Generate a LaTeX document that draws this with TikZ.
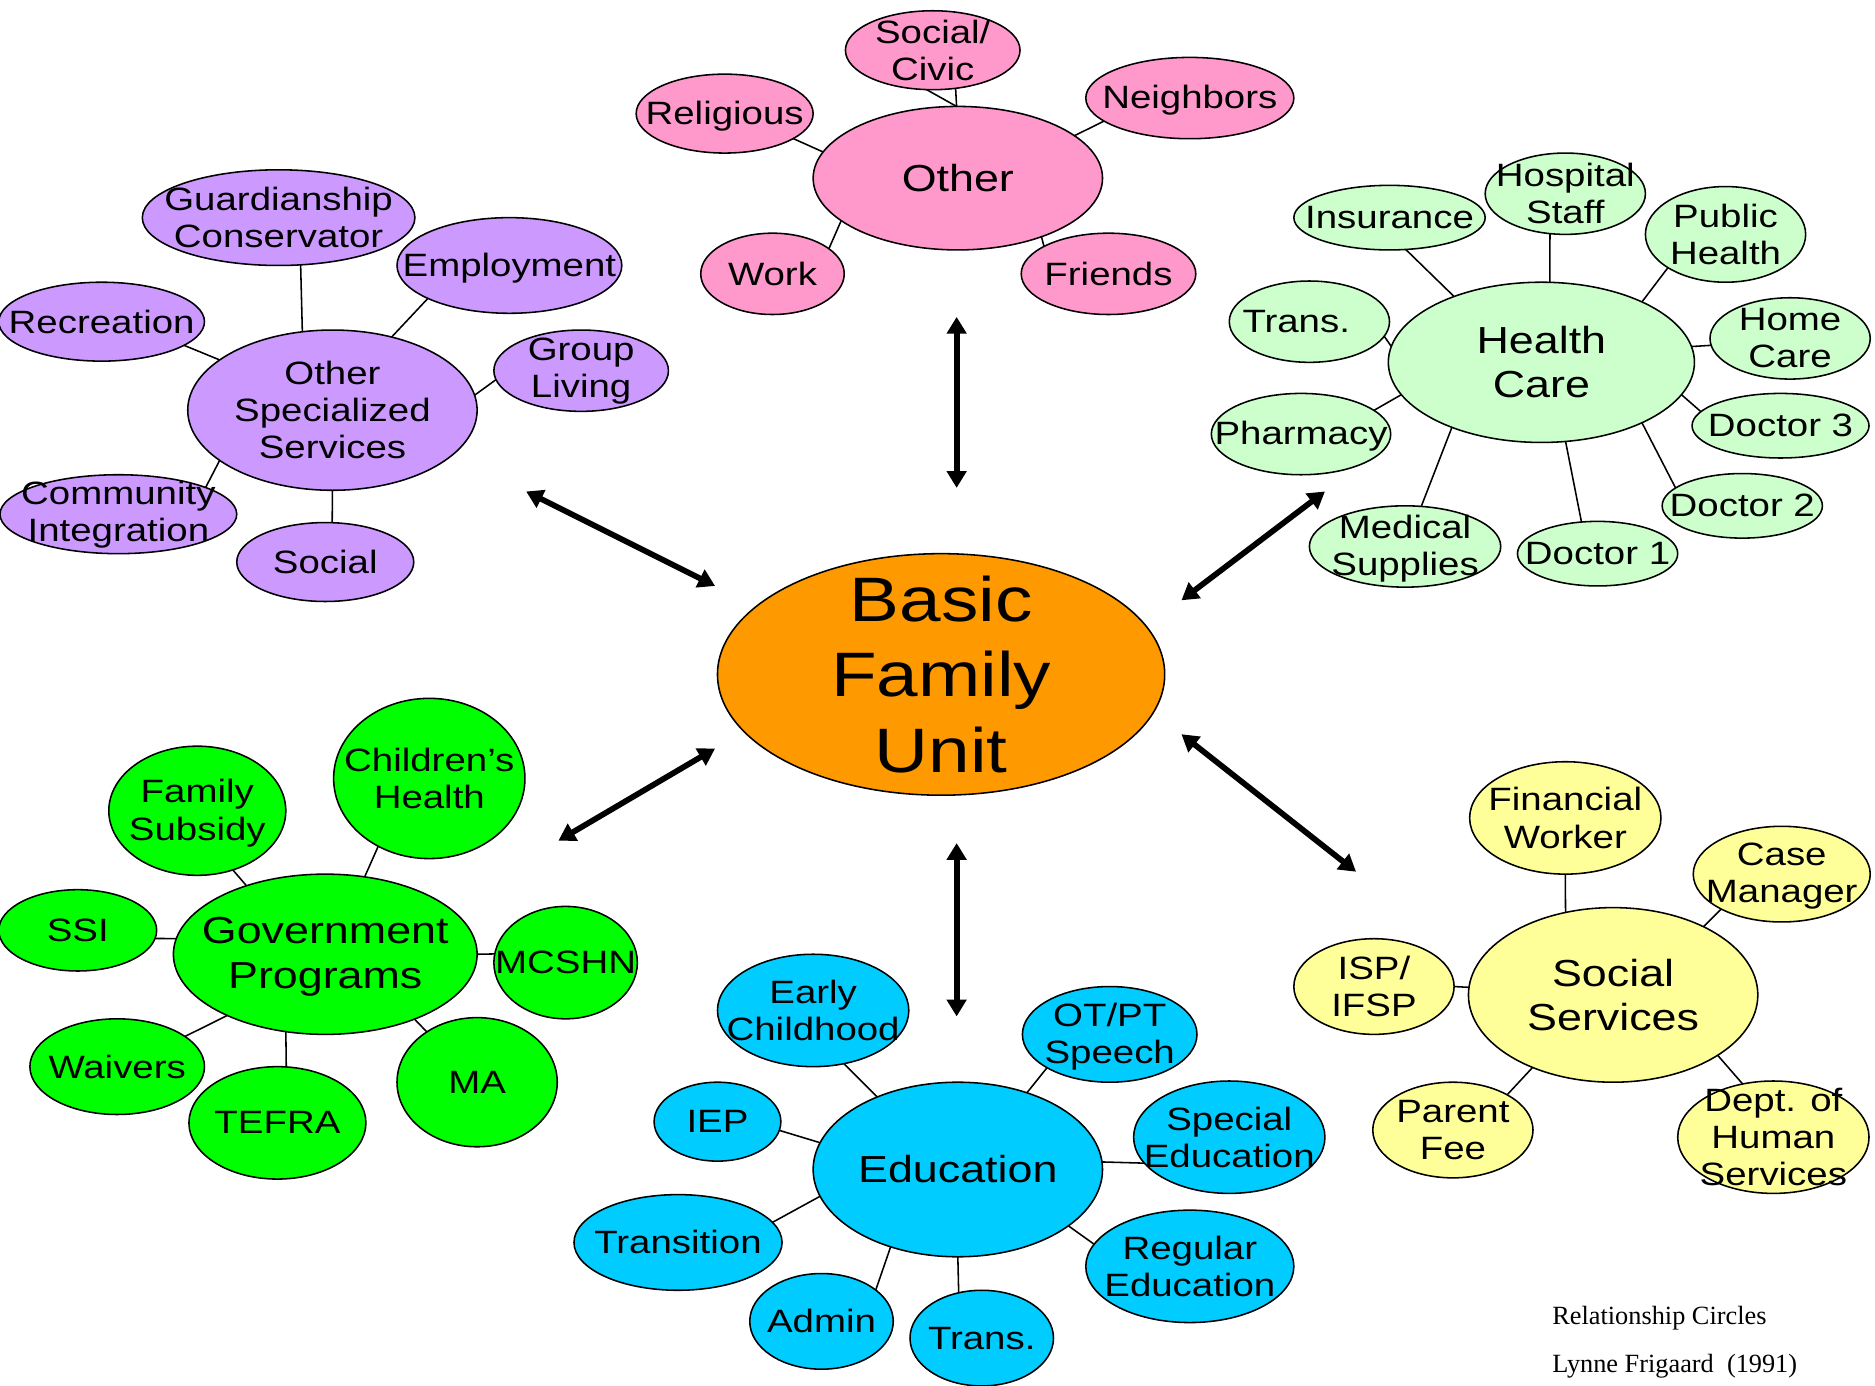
\documentclass[tikz,border=0pt]{standalone}
\usepackage{fontspec}
\setmainfont{Liberation Sans}[FakeStretch=1.19]
\newfontfamily\credfont{Liberation Serif}
\usetikzlibrary{shapes.geometric,arrows.meta}
\definecolor{cpink}{HTML}{FF99CC}
\definecolor{cpurple}{HTML}{CC99FF}
\definecolor{clgreen}{HTML}{CCFFCC}
\definecolor{cgreen}{HTML}{00FF00}
\definecolor{ccyan}{HTML}{00CCFF}
\definecolor{cyellow}{HTML}{FFFF99}
\definecolor{corange}{HTML}{FF9900}
\tikzset{
  bub/.style={ellipse, draw=black, line width=1.3pt, inner sep=0pt, outer sep=0pt},
  lbl/.style={align=center, inner sep=0pt, text=black},
  ts/.style={font=\fontsize{27}{31}\selectfont},
  tm/.style={font=\fontsize{31.5}{37}\selectfont},
  tb/.style={font=\fontsize{52.5}{63}\selectfont},
  link/.style={line width=1.3pt, draw=black},
  dbl/.style={line width=4.8pt, draw=black, {Triangle[length=14pt,width=16pt]}-{Triangle[length=14pt,width=16pt]}},
  credit/.style={font=\credfont\fontsize{22}{26}\selectfont, inner sep=0pt, anchor=base west}
}
\newcommand\bb[8]{%
  \node[bub,fill=#2,minimum width={2*#5},minimum height={2*#6}] (#1) at (#3,#4) {};
  \node[lbl,#7] (#1-t) at (#1.center) {#8};}
\begin{document}
\begin{tikzpicture}[x=1pt,y=-1pt]
\fill[white] (0,0) rectangle (1568,1159);
\useasboundingbox (0,0) rectangle (1568,1159);

% central
\bb{bfu}{corange}{787}{564}{187}{101}{tb}{Basic\\Family\\Unit}

% Other (pink)
\bb{other}{cpink}{801}{149}{121}{60}{tm}{Other}
\bb{scivic}{cpink}{780}{42}{73}{33}{ts}{Social/\\Civic}
\bb{relig}{cpink}{606}{95}{74}{33}{ts,yshift=-2pt}{Religious}
\bb{neigh}{cpink}{995}{82}{87}{34}{ts,yshift=-2pt}{Neighbors}
\bb{work}{cpink}{646}{229}{60}{34}{ts}{Work}
\bb{friends}{cpink}{927}{229}{73}{34}{ts}{Friends}

% Other Specialized Services (purple)
\bb{oss}{cpurple}{278}{343}{121}{67}{ts}{Other\\Specialized\\Services}
\bb{guard}{cpurple}{233}{182}{114}{40}{ts}{Guardianship\\Conservator}
\bb{employ}{cpurple}{426}{222}{94}{40}{ts,yshift=-2pt}{Employment}
\bb{recre}{cpurple}{85}{269}{86}{33}{ts}{Recreation}
\bb{group}{cpurple}{486}{310}{73}{34}{ts}{Group\\Living}
\bb{commun}{cpurple}{99}{430}{99}{33}{ts}{Community\\Integration}
\bb{social}{cpurple}{272}{470}{74}{33}{ts}{Social}

% Health Care (light green)
\bb{hc}{clgreen}{1289}{303}{128}{67}{tm}{Health\\Care}
\bb{insur}{clgreen}{1162}{182}{80}{27}{ts}{Insurance}
\bb{hosp}{clgreen}{1309}{162}{67}{34}{ts}{Hospital\\Staff}
\bb{pubh}{clgreen}{1443}{196}{67}{40}{ts}{Public\\Health}
\bb{htrans}{clgreen}{1095}{269}{67}{34}{ts,xshift=-11pt}{Trans.}
\bb{home}{clgreen}{1497}{283}{67}{34}{ts}{Home\\Care}
\bb{pharm}{clgreen}{1088}{363}{75}{34}{ts,yshift=-2pt}{Pharmacy}
\bb{doc3}{clgreen}{1489}{356}{74}{27}{ts}{Doctor 3}
\bb{medsup}{clgreen}{1175}{457}{80}{34}{ts,yshift=-2pt}{Medical\\Supplies}
\bb{doc1}{clgreen}{1336}{463}{67}{27}{ts}{Doctor 1}
\bb{doc2}{clgreen}{1457}{423}{67}{27}{ts}{Doctor 2}

% Government Programs (green)
\bb{gov}{cgreen}{272}{798}{127}{67}{tm,yshift=-2pt}{Government\\Programs}
\bb{famsub}{cgreen}{165}{678}{74}{54}{ts,yshift=-2pt}{Family\\Subsidy}
\bb{child}{cgreen}{359}{651}{80}{67}{ts}{Children's\\Health}
\bb{ssi}{cgreen}{65}{778}{66}{34}{ts}{SSI}
\bb{mcshn}{cgreen}{473}{805}{60}{47}{ts}{MCSHN}
\bb{waiv}{cgreen}{98}{892}{73}{40}{ts}{Waivers}
\bb{tefra}{cgreen}{232}{939}{74}{47}{ts}{TEFRA}
\bb{ma}{cgreen}{399}{905}{67}{54}{ts}{MA}

% Education (cyan)
\bb{edu}{ccyan}{801}{978}{121}{73}{tm}{Education}
\bb{early}{ccyan}{680}{845}{80}{47}{ts}{Early\\Childhood}
\bb{otpt}{ccyan}{928}{865}{73}{40}{ts,yshift=-2pt}{OT/PT\\Speech}
\bb{iep}{ccyan}{600}{938}{53}{33}{ts}{IEP}
\bb{special}{ccyan}{1028}{951}{80}{47}{ts}{Special\\Education}
\bb{transit}{ccyan}{567}{1039}{87}{40}{ts}{Transition}
\bb{regular}{ccyan}{995}{1059}{87}{47}{ts}{Regular\\Education}
\bb{admin}{ccyan}{687}{1105}{60}{40}{ts}{Admin}
\bb{etrans}{ccyan}{821}{1119}{60}{40}{ts}{Trans.}

% Social Services (yellow)
\bb{ss}{cyellow}{1349}{832}{121}{73}{tm}{Social\\Services}
\bb{fin}{cyellow}{1309}{684}{80}{47}{ts}{Financial\\Worker}
\bb{case}{cyellow}{1490}{731}{74}{40}{ts,yshift=-2pt}{Case\\Manager}
\bb{isp}{cyellow}{1149}{825}{67}{40}{ts}{ISP/\\IFSP}
\bb{parent}{cyellow}{1215}{945}{67}{40}{ts}{Parent\\Fee}
\bb{dept}{cyellow}{1483}{951}{80}{47}{ts}{Dept. of\\Human\\Services}

% connectors: Other
\draw[link] (relig.-20) -- (other.169);
\draw[link] (scivic.-59) -- (other.91);
\draw[link] (scivic.-99) -- (other.91);
\draw[link] (neigh.-165) -- (other.20);
\draw[link] (other.-160) -- (work.24);
\draw[link] (other.-35) -- (friends.157);
% connectors: OSS
\draw[link] (guard.-65) -- (oss.111);
\draw[link] (employ.-158) -- (oss.51);
\draw[link] (recre.-16) -- (oss.156);
\draw[link] (group.-174) -- (oss.6);
\draw[link] (oss.-156) -- (commun.17);
\draw[link] (oss.-90) -- (social.80);
% connectors: Health Care
\draw[link] (insur.-63) -- (hc.143);
\draw[link] (hosp.-111) -- (hc.84);
\draw[link] (pubh.-150) -- (hc.31);
\draw[link] (htrans.-11) -- (hc.174);
\draw[link] (hc.6) -- (home.-175);
\draw[link] (pharm.18) -- (hc.-167);
\draw[link] (hc.-13) -- (doc3.170);
\draw[link] (medsup.68) -- (hc.-144);
\draw[link] (hc.-73) -- (doc1.117);
\draw[link] (hc.-31) -- (doc2.165);
% connectors: Government
\draw[link] (famsub.-59) -- (gov.139);
\draw[link] (child.-127) -- (gov.63);
\draw[link] (ssi.-6) -- (gov.174);
\draw[link] (gov.0) -- (mcshn.173);
\draw[link] (waiv.24) -- (gov.-148);
\draw[link] (gov.-117) -- (tefra.81);
\draw[link] (gov.-36) -- (ma.135);
% connectors: Education
\draw[link] (early.-60) -- (edu.138);
\draw[link] (otpt.-152) -- (edu.48);
\draw[link] (iep.-8) -- (edu.169);
\draw[link] (edu.3) -- (special.-163);
\draw[link] (transit.12) -- (edu.-169);
\draw[link] (edu.-27) -- (regular.167);
\draw[link] (admin.30) -- (edu.-131);
\draw[link] (edu.-90) -- (etrans.117);
% connectors: Social Services
\draw[link] (fin.-90) -- (ss.120);
\draw[link] (case.-150) -- (ss.37);
\draw[link] (isp.0) -- (ss.177);
\draw[link] (ss.-138) -- (parent.33);
\draw[link] (ss.-30) -- (dept.120);

% big double arrows
\coordinate (a1a) at (800,265); \coordinate (a1b) at (800,408);
\coordinate (a2a) at (440,411); \coordinate (a2b) at (598,490);
\coordinate (a3a) at (1108,411); \coordinate (a3b) at (988,502);
\coordinate (a4a) at (598,626); \coordinate (a4b) at (467,703);
\coordinate (a5a) at (800,705); \coordinate (a5b) at (800,850);
\coordinate (a6a) at (988,614); \coordinate (a6b) at (1134,729);
\draw[dbl] (a1a) -- (a1b);
\draw[dbl] (a2a) -- (a2b);
\draw[dbl] (a3a) -- (a3b);
\draw[dbl] (a4a) -- (a4b);
\draw[dbl] (a5a) -- (a5b);
\draw[dbl] (a6a) -- (a6b);

% credits
\node[credit] (cred1) at (1298,1108) {Relationship Circles};
\node[credit] (cred2) at (1298,1148) {Lynne Frigaard~~(1991)};
\end{tikzpicture}
\end{document}
